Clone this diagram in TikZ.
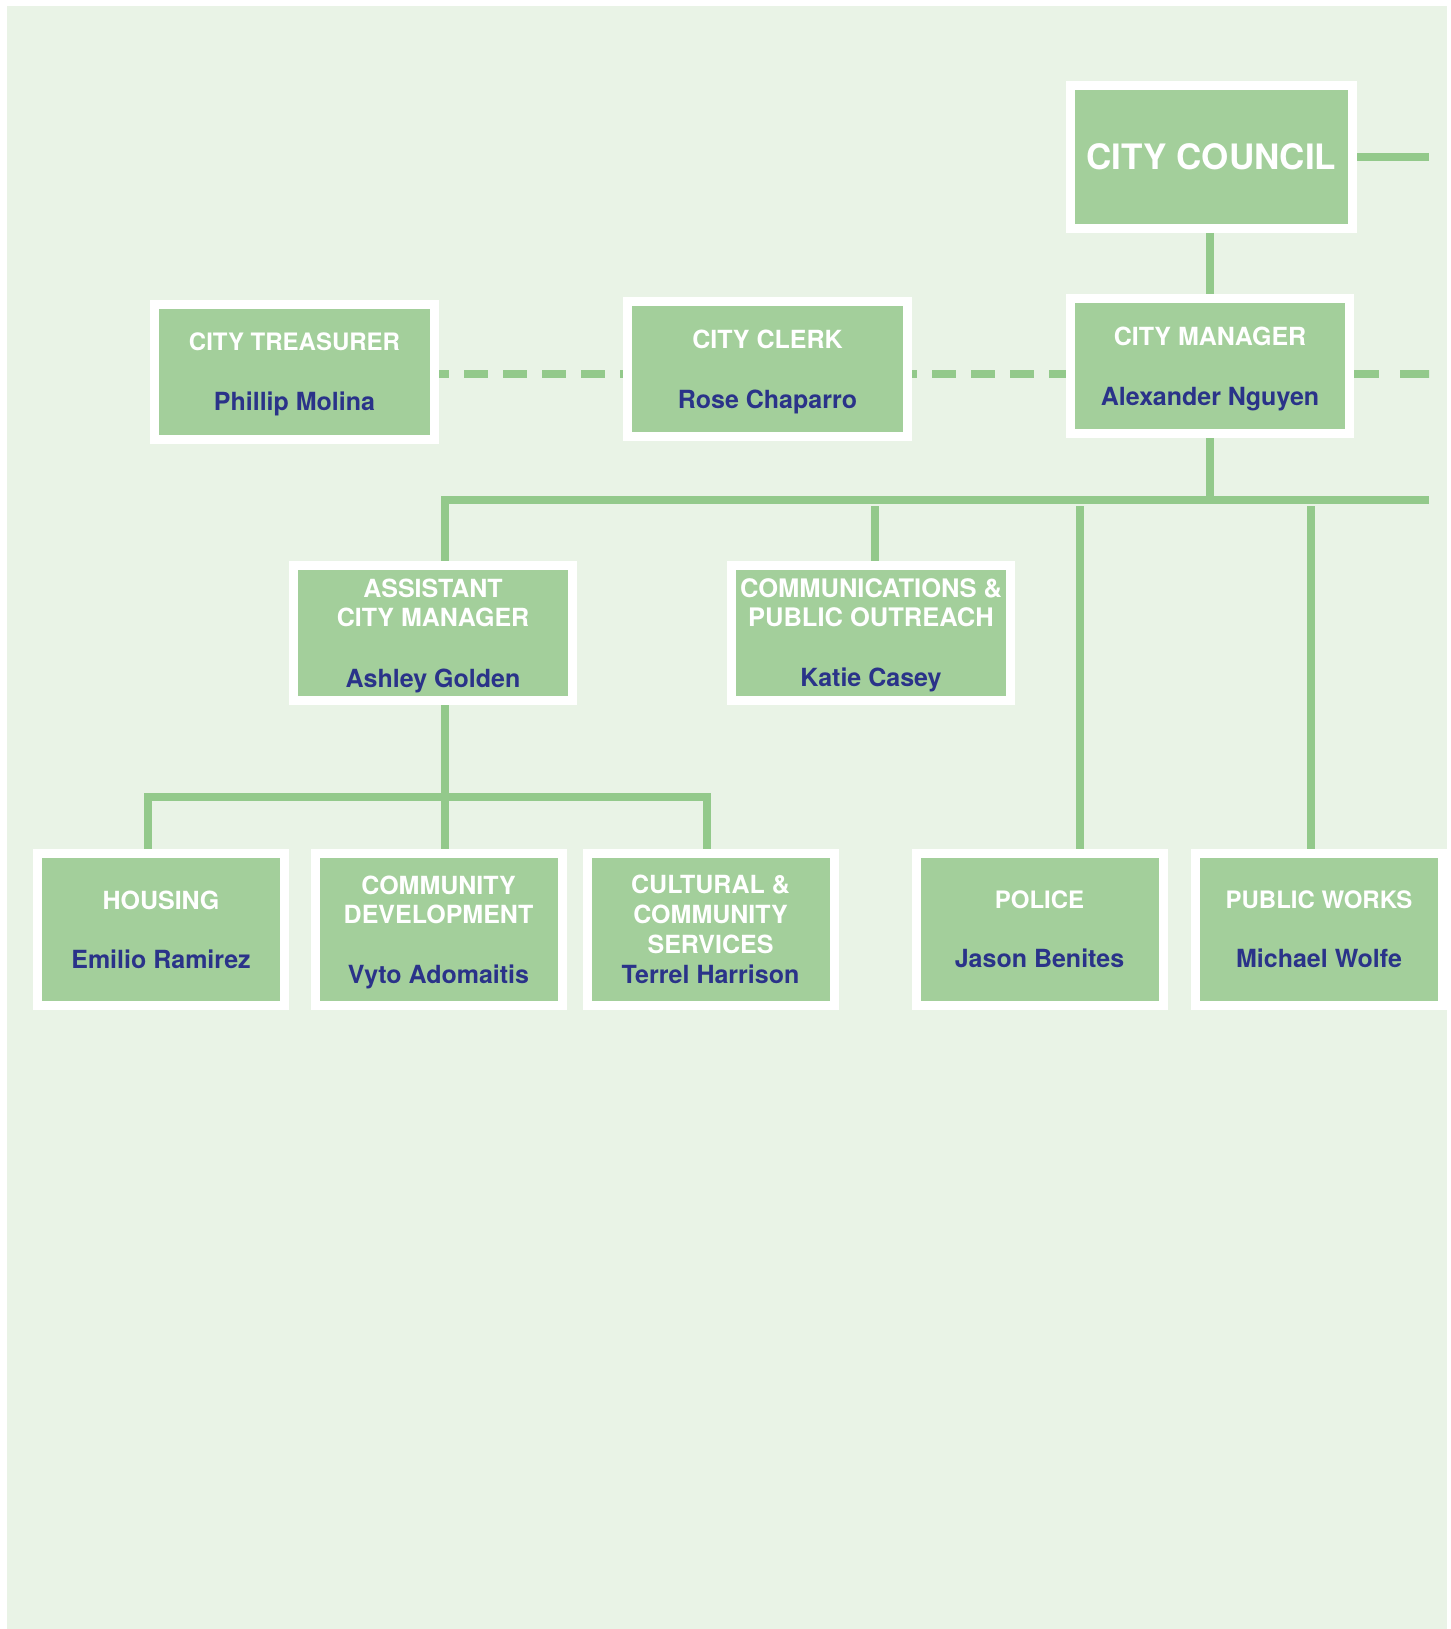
\documentclass[tikz,border=0pt]{standalone}
\usepackage{fontspec}
\setmainfont{TeX Gyre Heros}
\definecolor{pagegreen}{HTML}{E9F3E6}
\definecolor{boxgreen}{HTML}{A3CF9B}
\definecolor{linegreen}{HTML}{93C98B}
\definecolor{namenavy}{HTML}{2A3389}
\newcommand{\who}[1]{{\color{namenavy}\fontsize{25}{29}\selectfont\raisebox{0pt}[\height][0pt]{#1}}}
\tikzset{
  orgbox/.style={draw=white, line width=9pt, fill=boxgreen, text=white, align=center,
    inner sep=0pt, font=\fontsize{25}{29}\selectfont\bfseries,
    minimum width=279pt, minimum height=135pt},
  deptbox/.style={orgbox, minimum width=247pt, minimum height=152pt},
  conn/.style={draw=linegreen, line width=8pt},
  dotconn/.style={conn, dash pattern=on 24pt off 15pt}
}
\begin{document}
\begin{tikzpicture}[x=1pt, y=-1pt]
\useasboundingbox (0,0) rectangle (1450,1629);
\fill[pagegreen] (7,6) rectangle (1447,1629);

% top rows
\node[orgbox, minimum width=282pt, minimum height=143pt, font=\fontsize{35}{40}\selectfont\bfseries] (council) at (1211.5,157) {CITY COUNCIL};
\node[orgbox] (manager) at (1210,366) {CITY MANAGER\\[31pt]\who{Alexander Nguyen}};
\node[orgbox, minimum width=280pt, font=\fontsize{24}{29}\selectfont\bfseries] (treasurer) at (294.5,372) {CITY TREASURER\\[31pt]\who{Phillip Molina}};
\node[orgbox, minimum width=280pt] (clerk) at (767.5,369) {CITY CLERK\\[31pt]\who{Rose Chaparro}};
\node[orgbox] (assistant) at (433,633) {ASSISTANT\\CITY MANAGER\\[32pt]\who{Ashley Golden}};
\node[orgbox, font=\fontsize{25.5}{29}\selectfont\bfseries] (comms) at (871,633) {COMMUNICATIONS \&\\PUBLIC OUTREACH\\[31pt]\who{Katie Casey}};

% departments
\node[deptbox] (housing) at (161,929.5) {HOUSING\\[30pt]\who{Emilio Ramirez}};
\node[deptbox] (commdev) at (438.5,929.5) {COMMUNITY\\DEVELOPMENT\\[31pt]\who{Vyto Adomaitis}};
\node[deptbox] (cultural) at (710.5,929.5) {CULTURAL \&\\[1pt]COMMUNITY\\[1pt]SERVICES\\[1pt]\who{Terrel Harrison}};
\node[deptbox, font=\fontsize{24}{29}\selectfont\bfseries] (police) at (1039.5,929.5) {POLICE\\[30pt]\who{Jason Benites}};
\node[deptbox, font=\fontsize{24}{29}\selectfont\bfseries] (pubworks) at (1319,929.5) {PUBLIC WORKS\\[30pt]\who{Michael Wolfe}};

% junction points
\coordinate (councilend) at (1429,157);
\coordinate (managerend) at (1429,373.5);
\coordinate (dashy) at (0,373.5);
\coordinate (busend) at (1429,500);
\coordinate (busleft) at (444.5,500);
\coordinate (jcom) at (874.5,506);
\coordinate (jpol) at (1080,506);
\coordinate (jpub) at (1311,506);
\coordinate (subleft) at (148,797);
\coordinate (subright) at (707,797);

% connectors
\draw[conn] (council.east) -- (councilend);
\draw[conn] (manager.north |- council.south) -- (manager.north);
\draw[dotconn, dash phase=14pt] (treasurer.east |- dashy) -- (clerk.west |- dashy);
\draw[dotconn, dash phase=19pt] (clerk.east |- dashy) -- (manager.west |- dashy);
\draw[conn, dash pattern=on 25pt off 21pt on 29pt off 0pt] (manager.east |- dashy) -- (managerend);
\draw[conn] (manager.south) -- (manager.south |- busend);
\draw[conn] (busend) -- (busleft) -- (busleft |- assistant.north);
\draw[conn] (jcom) -- (jcom |- comms.north);
\draw[conn] (jpol) -- (jpol |- police.north);
\draw[conn] (jpub) -- (jpub |- pubworks.north);
\draw[conn] (busleft |- assistant.south) -- (busleft |- commdev.north);
\draw[conn] (subleft |- housing.north) -- (subleft) -- (subright) -- (subright |- cultural.north);
\end{tikzpicture}
\end{document}
